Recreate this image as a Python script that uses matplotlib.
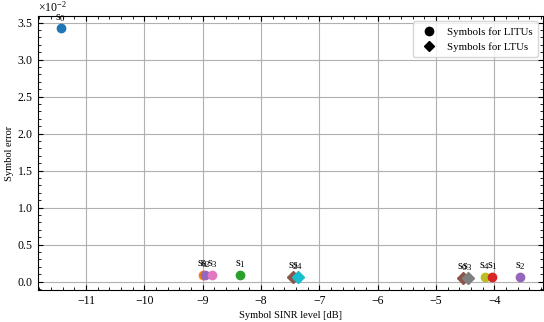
import matplotlib
matplotlib.use("Agg")
import matplotlib.pyplot as plt
from matplotlib.lines import Line2D

plt.rcParams['font.family'] = ['Liberation Serif', 'DejaVu Serif']
plt.rcParams['mathtext.fontset'] = 'custom'
plt.rcParams['mathtext.rm'] = 'Liberation Serif'
plt.rcParams['mathtext.it'] = 'Liberation Serif:italic'
plt.rcParams['font.size'] = 8.5
plt.rcParams['axes.unicode_minus'] = True

# LITU points (circles)
litu_x = [-11.43, -9.00, -8.96, -8.84, -8.36, -4.16, -4.04, -3.56]
litu_y = [3.42e-2, 0.09e-2, 0.09e-2, 0.09e-2, 0.09e-2, 0.06e-2, 0.06e-2, 0.06e-2]
litu_labels = ['$\\mathrm{s}_0$', '$\\mathrm{s}_0$', '$\\mathrm{s}_2$', '$\\mathrm{s}_3$',
               '$\\mathrm{s}_1$', '$\\mathrm{s}_4$', '$\\mathrm{s}_1$', '$\\mathrm{s}_2$']
litu_colors = ['#1f77b4', '#ff7f0e', '#9467bd', '#e377c2', '#2ca02c', '#bcbd22', '#d62728', '#9467bd']

# LTU points (diamonds)
ltu_x = [-7.45, -7.37, -4.54, -4.46]
ltu_y = [0.06e-2, 0.06e-2, 0.055e-2, 0.055e-2]
ltu_labels = ['$\\mathrm{s}_2$', '$\\mathrm{s}_4$', '$\\mathrm{s}_0$', '$\\mathrm{s}_3$']
ltu_colors = ['#8c564b', '#17becf', '#8c564b', '#7f7f7f']

fig = plt.figure(figsize=(5.44, 3.22), dpi=100)
ax = fig.add_axes([38/544, 1-290/322, (543-38)/544, (290-16)/322])

for x, y, c, lab in zip(litu_x, litu_y, litu_colors, litu_labels):
    ax.plot(x, y, 'o', color=c, ms=6, zorder=3)
    ax.annotate(lab, (x, y), xytext=(0, 3.5), textcoords='offset points',
                ha='center', va='bottom', fontsize=9)
for x, y, c, lab in zip(ltu_x, ltu_y, ltu_colors, ltu_labels):
    ax.plot(x, y, 'D', color=c, ms=6, zorder=3)
    ax.annotate(lab, (x, y), xytext=(0, 3.5), textcoords='offset points',
                ha='center', va='bottom', fontsize=9)

ax.grid(True, color='#b0b0b0', lw=0.8)
ax.set_axisbelow(True)
ax.minorticks_on()
ax.tick_params(which='both', direction='in', top=True, right=True)
ax.tick_params(which='major', length=3.5)
ax.tick_params(which='minor', length=2)
ax.ticklabel_format(axis='y', style='sci', scilimits=(0, 0), useMathText=True)
ax.set_xlabel('Symbol SINR level [dB]', labelpad=3, fontsize=7.5)
ax.set_ylabel('Symbol error', fontsize=7.5)
ax.yaxis.set_label_coords(-0.047, 0.5)

handles = [Line2D([], [], marker='o', color='k', ls='none', ms=6),
           Line2D([], [], marker='D', color='k', ls='none', ms=5)]
ax.legend(handles, ['Symbols for LITUs', 'Symbols for LTUs'], loc='upper right',
          fontsize=7.8, handletextpad=0.6, borderpad=0.5)

fig.savefig('out.png', dpi=100)
